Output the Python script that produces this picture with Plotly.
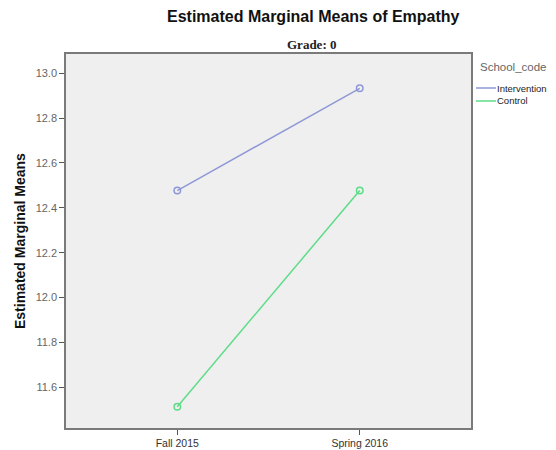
import plotly.graph_objects as go

categories = ["Fall 2015", "Spring 2016"]
intervention = [12.477, 12.933]
control = [11.513, 12.477]
series_names = ["Intervention", "Control"]
y_ticks = [11.6, 11.8, 12.0, 12.2, 12.4, 12.6, 12.8, 13.0]

colors = ["#8e98d6", "#5ddc88"]
OFF = 8  # default page body margin
W, H = 556 - OFF, 450 - OFF
# plot box in page pixels: x 66..471, y 54..428
L, R, T, B = 66 - OFF, 556 - 471, 54 - OFF, 450 - 428

fig = go.Figure()
for name, vals, c in zip(series_names, [intervention, control], colors):
    fig.add_trace(go.Scatter(
        x=[0, 1], y=vals, mode="lines+markers", name=name,
        line=dict(color=c, width=1.5),
        marker=dict(symbol="circle-open", size=6.5, color=c, line=dict(width=1.5, color=c)),
        showlegend=False,
    ))

font = "Liberation Sans, Arial, sans-serif"
fig.update_layout(
    width=W, height=H,
    margin=dict(l=L, r=R, t=T, b=B, autoexpand=False),
    paper_bgcolor="white", plot_bgcolor="#efefef",
    font=dict(family=font, size=10, color="#333"),
    xaxis=dict(range=[-0.61, 1.61], tickvals=[0, 1], ticktext=categories,
               showgrid=False, zeroline=False, showline=True, mirror=True,
               linecolor="#7a7a7a", linewidth=1.5, ticks="outside", ticklen=5,
               tickcolor="#555", tickfont=dict(size=10.5, color="#333")),
    yaxis=dict(range=[11.418, 13.086], tickvals=y_ticks,
               ticktext=[f"{v:.1f}" for v in y_ticks],
               showgrid=False, zeroline=False, showline=True, mirror=True,
               linecolor="#7a7a7a", linewidth=1.5, ticks="outside", ticklen=5,
               tickcolor="#555", tickfont=dict(size=11, color="#666")),
)

# page pixel -> paper coordinates
def px(x):
    return (x - OFF - L) / (W - L - R)
def py(y):
    return (H - B - (y - OFF)) / (H - T - B)

ann = [
    dict(text="<b>Estimated Marginal Means of Empathy</b>", x=313, y=16,
         font=dict(size=16, color="#111", family=font)),
    dict(text="<b>Grade: 0</b>", x=311, y=44.5,
         font=dict(size=13, color="#222", family="Liberation Serif, Times New Roman, serif")),
    dict(text="<b>Estimated Marginal Means</b>", x=20, y=241, textangle=-90,
         font=dict(size=14, color="#111", family=font)),
]
for a in ann:
    fig.add_annotation(text=a["text"], x=px(a["x"]), y=py(a["y"]), xref="paper", yref="paper",
                       xanchor="center", yanchor="middle", showarrow=False,
                       textangle=a.get("textangle", 0), font=a["font"])

fig.add_annotation(text="School_code", x=px(478), y=py(67), xref="paper", yref="paper",
                   xanchor="left", yanchor="middle", showarrow=False,
                   font=dict(size=11.5, color="#666"))
for i, (name, c) in enumerate(zip(series_names, colors)):
    yy = 88 + i * 13
    fig.add_shape(type="line", x0=px(476), x1=px(496), y0=py(yy), y1=py(yy),
                  xref="paper", yref="paper", line=dict(color=c, width=1.5))
    fig.add_annotation(text=name, x=px(495), y=py(yy), xref="paper", yref="paper",
                       xanchor="left", yanchor="middle", showarrow=False,
                       font=dict(size=9.5, color="#222"))

fig.write_html("out.html")
